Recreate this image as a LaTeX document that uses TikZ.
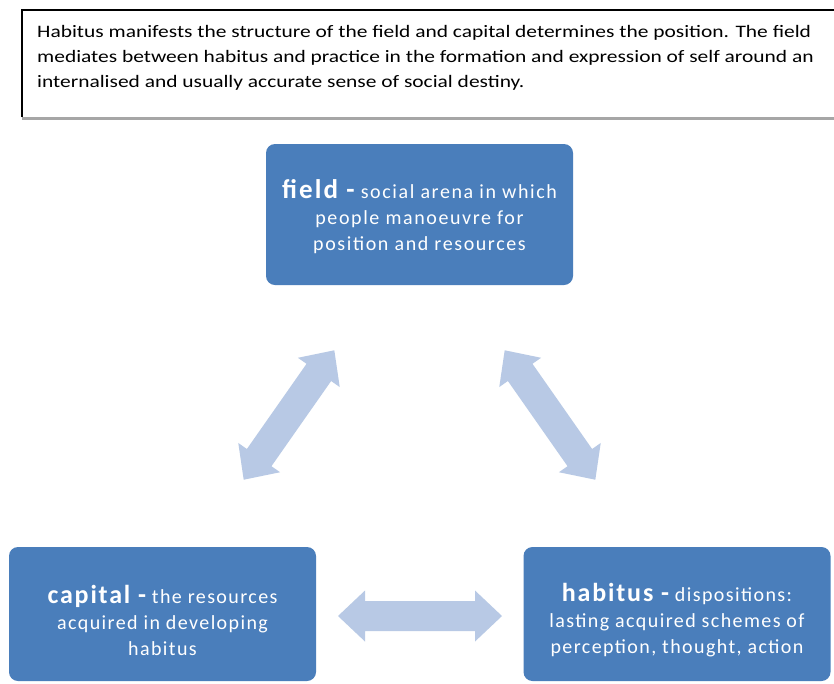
\documentclass[tikz,border=0pt]{standalone}
\usepackage{fontspec}
\setmainfont{Carlito}
\newfontfamily\capfont[FakeStretch=1.225]{Carlito}
\newfontfamily\boxfont[LetterSpace=8]{Carlito}
\newfontfamily\lowfont[LetterSpace=7]{Carlito}
\begin{document}
\begin{tikzpicture}[x=1pt,y=-1pt,
  bluebox/.style={draw=none, fill=boxblue, rounded corners=9pt, inner sep=0pt,
    minimum width=307pt, minimum height=141pt},
  boxtext/.style={text=white, align=center, inner sep=0pt},
  arrowfill/.style={fill=arrowblue, draw=none}]
\definecolor{boxblue}{RGB}{74,126,187}
\definecolor{arrowblue}{RGB}{184,201,229}
\clip (0,0) rectangle (834,683);
\fill[white] (0,0) rectangle (834,683);

% caption frame: black top and left edges, grey bottom rule
\draw[black, line width=1.6pt] (22,117) -- (22,10) -- (850,10);
\draw[gray!70, line width=3pt] (22,118) -- (850,118);
\node[anchor=north west, inner sep=0pt, align=left,
  font=\capfont\fontsize{17.5}{25}\selectfont] (caption) at (37,25)
  {Habitus manifests the structure of the field and capital determines the position. The field\\
   mediates between habitus and practice in the formation and expression of self around an\\
   internalised and usually accurate sense of social destiny.};

% the three concept boxes
\node[bluebox] (field) at (419.5,214.5) {};
\node[boxtext, font=\boxfont\fontsize{20}{26}\selectfont] (fieldtext) at (419.5,217)
  {{\bfseries\fontsize{27}{26}\selectfont field -} social arena in which\\
   people manoeuvre for\\ position and resources};

\node[bluebox, minimum height=134pt] (capital) at (162.5,614) {};
\node[boxtext, font=\lowfont\fontsize{20}{26}\selectfont] (capitaltext) at (162.5,620)
  {{\bfseries\fontsize{26}{26}\selectfont capital -} the resources\\
   acquired in developing\\ habitus};

\node[bluebox, minimum height=134pt] (habitus) at (677,614) {};
\node[boxtext, font=\lowfont\fontsize{20}{26}\selectfont] (habitustext) at (677,620)
  {{\bfseries\fontsize{26}{26}\selectfont habitus -} dispositions:\\
   lasting acquired schemes of\\ perception, thought, action};

% broad two-headed arrows between the boxes
\newcommand\twoway[4]{%
  \begin{scope}[shift={(#1,#2)}, rotate=#3]
    \fill[arrowfill] (-#4,0) -- (-#4+27,25.5) -- (-#4+27,15) -- (#4-27,15)
      -- (#4-27,25.5) -- (#4,0) -- (#4-27,-25.5) -- (#4-27,-15)
      -- (-#4+27,-15) -- (-#4+27,-25.5) -- cycle;
  \end{scope}}
\twoway{289}{415}{55}{79}
\twoway{550}{415}{-55}{79}
\twoway{420}{616}{0}{82}
\end{tikzpicture}
\end{document}
